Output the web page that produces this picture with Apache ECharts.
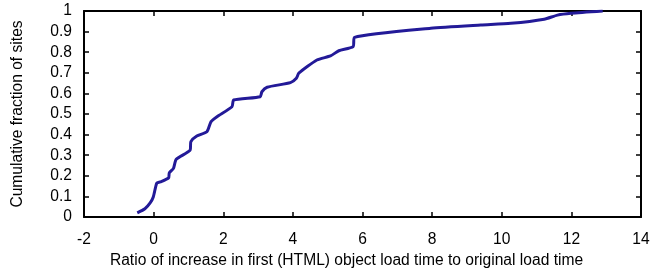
<!DOCTYPE html>
<html>
<head>
<meta charset="utf-8">
<script src="https://cdn.jsdelivr.net/npm/echarts@6/dist/echarts.min.js"></script>
<style>
  html, body { margin: 0; padding: 0; background: #fff; }
  #chart { width: 653px; height: 274px; }
</style>
</head>
<body>
<div id="chart"></div>
<script>
// ratio of increase (x) against cumulative fraction of sites (y)
const ratio = [-0.47, -0.25, -0.1, -0.01, 0.09, 0.19, 0.43, 0.45, 0.57, 0.65, 1.05, 1.07, 1.24, 1.53, 1.65, 1.82, 2.25, 2.3,
  3.06, 3.11, 3.26, 3.93, 4.1, 4.17, 4.69, 5.08, 5.32, 5.73, 5.77, 7.96, 9.4, 10.26, 11.22, 11.6, 11.99, 12.9];
const fraction = [0.02, 0.04, 0.068, 0.097, 0.165, 0.17, 0.19, 0.214, 0.236, 0.28, 0.325, 0.366, 0.393, 0.414, 0.463, 0.487, 0.535, 0.568,
  0.584, 0.608, 0.63, 0.652, 0.673, 0.698, 0.762, 0.782, 0.807, 0.827, 0.872, 0.916, 0.932, 0.94, 0.96, 0.98, 0.989, 1.0];

const font = "'Liberation Sans', Arial, sans-serif";

// frame axes sit "on zero" of a helper axis whose zero lies on that edge
function axisLine(zeroIndex) {
  return { show: true, onZero: true, onZeroAxisIndex: zeroIndex, lineStyle: { color: "#000", width: 2 } };
}
function tick() {
  return { show: true, inside: true, length: 5, lineStyle: { color: "#000", width: 1.5 } };
}

const chart = echarts.init(document.getElementById("chart"));
chart.setOption({
  animation: false,
  backgroundColor: "#fff",
  grid: { left: 84, right: 12, top: 11, bottom: 57 },
  xAxis: [
    {
      type: "value",
      min: -2,
      max: 14,
      interval: 2,
      name: "Ratio of increase in first (HTML) object load time to original load time",
      nameLocation: "middle",
      nameGap: 34,
      nameTextStyle: { color: "#000", fontSize: 15.6, fontFamily: font, padding: [0, 32, 0, 0] },
      axisLine: axisLine(0),
      axisTick: tick(),
      axisLabel: { color: "#000", fontSize: 15.6, fontFamily: font, margin: 15 },
      splitLine: { show: false },
    },
    {
      // mirror ticks on top; its zero is the left edge
      type: "value",
      position: "top",
      min: 0,
      max: 16,
      interval: 2,
      axisLine: axisLine(1),
      axisTick: tick(),
      axisLabel: { show: false },
      splitLine: { show: false },
    },
    {
      // helper only: its zero is the right edge
      type: "value",
      position: "top",
      min: -16,
      max: 0,
      interval: 2,
      axisLine: { show: false, onZero: false },
      axisTick: { show: false },
      axisLabel: { show: false },
      splitLine: { show: false },
    },
  ],
  yAxis: [
    {
      type: "value",
      min: 0,
      max: 1,
      interval: 0.1,
      name: "Cumulative fraction of sites",
      nameLocation: "middle",
      nameGap: 58,
      nameTextStyle: { color: "#000", fontSize: 15.6, fontFamily: font },
      axisLine: axisLine(1),
      axisTick: tick(),
      axisLabel: { color: "#000", fontSize: 15.6, fontFamily: font, margin: 12 },
      splitLine: { show: false },
    },
    {
      // mirror ticks on the right; its zero is the top edge
      type: "value",
      position: "right",
      min: -1,
      max: 0,
      interval: 0.1,
      axisLine: axisLine(2),
      axisTick: tick(),
      axisLabel: { show: false },
      splitLine: { show: false },
    },
  ],
  series: [
    {
      type: "line",
      xAxisIndex: 0,
      yAxisIndex: 0,
      data: ratio.map((x, i) => [x, fraction[i]]),
      showSymbol: false,
      smooth: 0.2,
      lineStyle: { color: "#231a98", width: 3 },
    },
  ],
});
</script>
</body>
</html>
